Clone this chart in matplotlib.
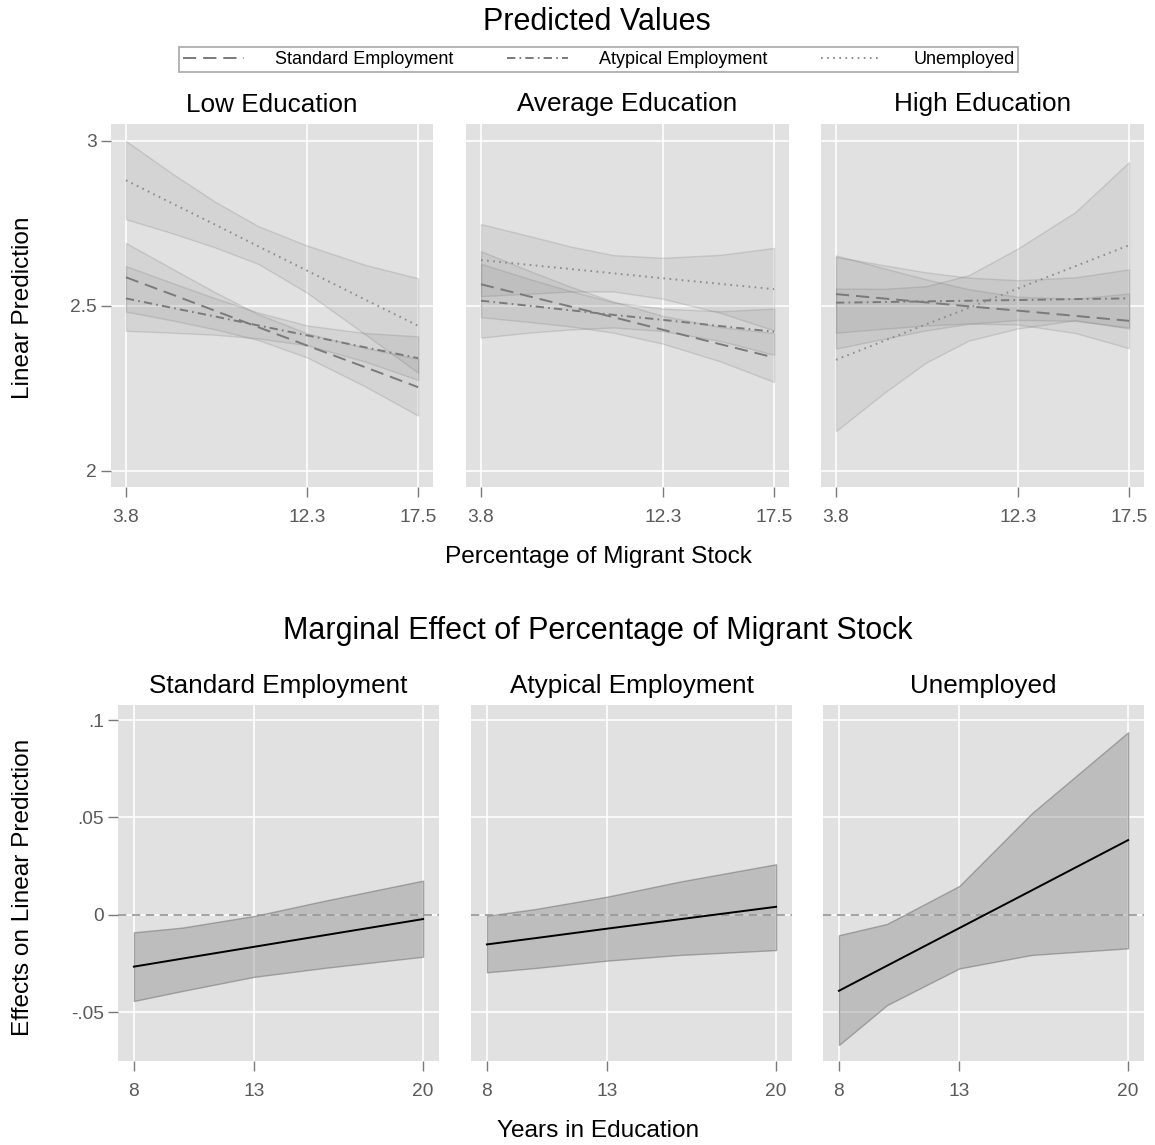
import matplotlib
matplotlib.use('Agg')
import matplotlib.pyplot as plt
from matplotlib.lines import Line2D

plt.rcParams['font.family'] = ['Liberation Sans', 'DejaVu Sans']
plt.rcParams['lines.scale_dashes'] = False

# ---------------- data: predicted values ----------------
x_pred = [3.8, 6, 8, 10, 12.3, 15, 17.5]
pred_xticks = [3.8, 12.3, 17.5]
pred_yticks = [2, 2.5, 3]
pred_panels = ["Low Education", "Average Education", "High Education"]
series_names = ["Standard Employment", "Atypical Employment", "Unemployed"]

# Low education
low_std_mean = [2.587, 2.534, 2.485, 2.436, 2.380, 2.315, 2.254]
low_std_lo   = [2.483, 2.456, 2.429, 2.397, 2.344, 2.257, 2.168]
low_std_hi   = [2.691, 2.612, 2.541, 2.475, 2.417, 2.373, 2.340]
low_aty_mean = [2.523, 2.494, 2.468, 2.441, 2.411, 2.375, 2.342]
low_aty_lo   = [2.425, 2.419, 2.413, 2.402, 2.381, 2.332, 2.276]
low_aty_hi   = [2.621, 2.569, 2.523, 2.480, 2.441, 2.418, 2.408]
low_une_mean = [2.881, 2.810, 2.746, 2.681, 2.607, 2.520, 2.440]
low_une_lo   = [2.763, 2.720, 2.677, 2.628, 2.540, 2.415, 2.298]
low_une_hi   = [3.000, 2.900, 2.815, 2.742, 2.683, 2.625, 2.584]

# Average education
avg_std_mean = [2.566, 2.530, 2.498, 2.466, 2.428, 2.384, 2.344]
avg_std_lo   = [2.466, 2.452, 2.438, 2.419, 2.386, 2.332, 2.270]
avg_std_hi   = [2.666, 2.608, 2.558, 2.513, 2.470, 2.436, 2.418]
avg_aty_mean = [2.516, 2.501, 2.487, 2.473, 2.458, 2.439, 2.422]
avg_aty_lo   = [2.404, 2.419, 2.429, 2.435, 2.424, 2.394, 2.352]
avg_aty_hi   = [2.628, 2.583, 2.545, 2.511, 2.492, 2.484, 2.492]
avg_une_mean = [2.639, 2.625, 2.612, 2.599, 2.584, 2.567, 2.551]
avg_une_lo   = [2.530, 2.537, 2.544, 2.544, 2.522, 2.479, 2.426]
avg_une_hi   = [2.748, 2.713, 2.680, 2.654, 2.646, 2.655, 2.676]

# High education
high_std_mean = [2.536, 2.523, 2.511, 2.499, 2.486, 2.470, 2.455]
high_std_lo   = [2.419, 2.431, 2.441, 2.447, 2.444, 2.418, 2.372]
high_std_hi   = [2.653, 2.615, 2.581, 2.551, 2.528, 2.522, 2.538]
high_aty_mean = [2.510, 2.512, 2.514, 2.516, 2.518, 2.521, 2.523]
high_aty_lo   = [2.371, 2.400, 2.426, 2.446, 2.458, 2.455, 2.435]
high_aty_hi   = [2.649, 2.624, 2.602, 2.586, 2.578, 2.587, 2.611]
high_une_mean = [2.337, 2.393, 2.444, 2.494, 2.553, 2.621, 2.684]
high_une_lo   = [2.121, 2.234, 2.328, 2.395, 2.432, 2.457, 2.432]
high_une_hi   = [2.553, 2.552, 2.560, 2.593, 2.674, 2.785, 2.936]

# ---------------- data: marginal effects ----------------
x_me = [8, 10, 13, 16, 20]
me_xticks = [8, 13, 20]
me_yticks = [-0.05, 0, 0.05, 0.1]
me_yticklabels = ["-.05", "0", ".05", ".1"]
me_panels = ["Standard Employment", "Atypical Employment", "Unemployed"]

me_std_mean = [-0.0265, -0.0224, -0.0163, -0.0102, -0.0021]
me_std_lo   = [-0.0441, -0.0390, -0.0317, -0.0270, -0.0214]
me_std_hi   = [-0.0089, -0.0065, -0.0005, 0.0075, 0.0176]
me_aty_mean = [-0.0151, -0.0119, -0.0070, -0.0022, 0.0042]
me_aty_lo   = [-0.0294, -0.0272, -0.0234, -0.0205, -0.0180]
me_aty_hi   = [-0.0004, 0.0030, 0.0094, 0.0171, 0.0260]
me_une_mean = [-0.0389, -0.0260, -0.0067, 0.0126, 0.0384]
me_une_lo   = [-0.0667, -0.0462, -0.0274, -0.0205, -0.0171]
me_une_hi   = [-0.0104, -0.0046, 0.0149, 0.0521, 0.0937]

pred_data = [
    [(low_std_mean, low_std_lo, low_std_hi), (low_aty_mean, low_aty_lo, low_aty_hi), (low_une_mean, low_une_lo, low_une_hi)],
    [(avg_std_mean, avg_std_lo, avg_std_hi), (avg_aty_mean, avg_aty_lo, avg_aty_hi), (avg_une_mean, avg_une_lo, avg_une_hi)],
    [(high_std_mean, high_std_lo, high_std_hi), (high_aty_mean, high_aty_lo, high_aty_hi), (high_une_mean, high_une_lo, high_une_hi)],
]
me_data = [
    (me_std_mean, me_std_lo, me_std_hi),
    (me_aty_mean, me_aty_lo, me_aty_hi),
    (me_une_mean, me_une_lo, me_une_hi),
]

# ---------------- styles ----------------
W, H = 1155, 1145
BG = '#e1e1e1'
TICKC = '#7a7a7a'
LABC = '#5a5a5a'
line_styles = [
    dict(color='#7a7a7a', lw=1.4, ls=(0, (9.5, 5))),
    dict(color='#7a7a7a', lw=1.4, ls=(0, (6, 3, 1.2, 3))),
    dict(color='#8c8c8c', lw=1.4, ls=(0, (1.2, 3.2))),
]

fig = plt.figure(figsize=(W / 100, H / 100), dpi=100)


def rect(x0, x1, y0, y1):
    return [x0 / W, 1 - y1 / H, (x1 - x0) / W, (y1 - y0) / H]


def style_ax(ax, first):
    ax.set_facecolor(BG)
    for s in ax.spines.values():
        s.set_visible(False)
    ax.set_axisbelow(True)
    ax.grid(True, color='white', lw=1.2)
    ax.tick_params(axis='both', length=7, width=1, color=TICKC,
                   labelcolor=LABC, labelsize=13.8)
    ax.tick_params(axis='x', pad=9)
    ax.tick_params(axis='y', pad=3)
    if not first:
        ax.tick_params(axis='y', left=False, labelleft=False)


top_x = [(111, 433), (466, 789), (821, 1144)]
bot_x = [(118, 439), (471, 792), (823, 1144)]

# top row
for i, (x0, x1) in enumerate(top_x):
    ax = fig.add_axes(rect(x0, x1, 124, 487))
    style_ax(ax, i == 0)
    for k, (m, lo, hi) in enumerate(pred_data[i]):
        ax.fill_between(x_pred, lo, hi, facecolor=(0.53, 0.53, 0.53, 0.14),
                        edgecolor=(0.45, 0.45, 0.45, 0.22), lw=1)
    for k, (m, lo, hi) in enumerate(pred_data[i]):
        ax.plot(x_pred, m, **line_styles[k])
    ax.set_xlim(3.1, 18.2)
    ax.set_ylim(1.9515, 3.0515)
    ax.set_xticks(pred_xticks)
    ax.set_xticklabels(["3.8", "12.3", "17.5"])
    ax.set_yticks(pred_yticks)
    ax.set_yticklabels(["2", "2.5", "3"])
    ax.set_title(pred_panels[i], fontsize=18.8, pad=9)

# bottom row
for i, (x0, x1) in enumerate(bot_x):
    ax = fig.add_axes(rect(x0, x1, 705, 1061))
    style_ax(ax, i == 0)
    m, lo, hi = me_data[i]
    ax.fill_between(x_me, lo, hi, facecolor=(0.53, 0.53, 0.53, 0.40),
                    edgecolor=(0.45, 0.45, 0.45, 0.55), lw=1)
    ax.axhline(0, color='#949494', lw=1.2, ls=(0, (6, 4)))
    ax.plot(x_me, m, color='black', lw=1.4)
    ax.set_xlim(7.34, 20.66)
    ax.set_ylim(-0.0749, 0.1077)
    ax.set_xticks(me_xticks)
    ax.set_xticklabels(["8", "13", "20"])
    ax.set_yticks(me_yticks)
    ax.set_yticklabels(me_yticklabels)
    ax.set_title(me_panels[i], fontsize=18.8, pad=9)

# figure texts
fig.text(597 / W, 1 - 22 / H, "Predicted Values", ha='center', va='center', fontsize=22)
fig.text(598 / W, 1 - 631 / H, "Marginal Effect of Percentage of Migrant Stock",
         ha='center', va='center', fontsize=22)
fig.text(598 / W, 1 - 557 / H, "Percentage of Migrant Stock", ha='center', va='center', fontsize=17.6)
fig.text(598 / W, 1 - 1131 / H, "Years in Education", ha='center', va='center', fontsize=17.6)
fig.text(23 / W, 1 - 308 / H, "Linear Prediction", ha='center', va='center',
         rotation=90, fontsize=17.6)
fig.text(23 / W, 1 - 887 / H, "Effects on Linear Prediction", ha='center', va='center',
         rotation=90, fontsize=17.6)

# legend
handles = [Line2D([0], [0], **line_styles[k]) for k in range(3)]
leg = fig.legend(handles, series_names, ncol=3, loc='center',
                 bbox_to_anchor=(179 / W, 1 - 72 / H, 839 / W, 25 / H), mode='expand',
                 frameon=True, fancybox=False, edgecolor='#999999', fontsize=13,
                 handlelength=3.4, handletextpad=1.7, borderpad=0.2,
                 borderaxespad=0, columnspacing=2.5)
leg.get_frame().set_linewidth(1.3)

fig.savefig('out.png', dpi=100, facecolor='white')
